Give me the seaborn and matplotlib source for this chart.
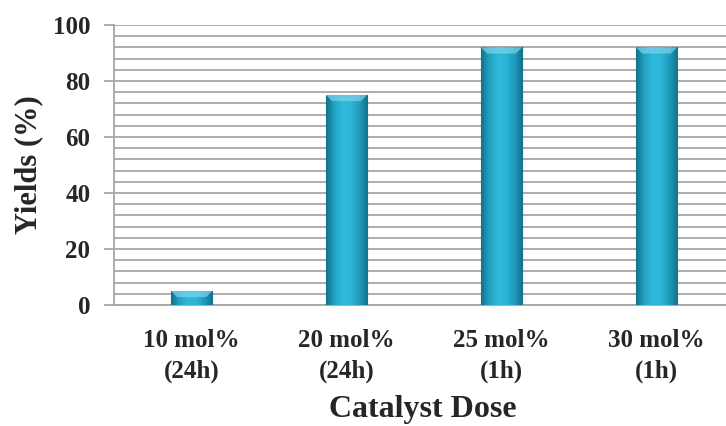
import numpy as np
import pandas as pd
import matplotlib
matplotlib.use('Agg')
import matplotlib.pyplot as plt
import seaborn as sns
from matplotlib.colors import LinearSegmentedColormap

categories = ['10 mol%\n(24h)', '20 mol%\n(24h)', '25 mol%\n(1h)', '30 mol%\n(1h)']
yields = [5, 75, 92, 92]

df = pd.DataFrame({'dose': categories, 'yield': yields})

sns.set_style('white')
plt.rcParams['font.family'] = ['Liberation Serif', 'DejaVu Serif']
plt.rcParams['font.weight'] = 'bold'

fig = plt.figure(figsize=(7.26, 4.26), dpi=100)
ax = fig.add_axes([114 / 726, 1 - 305 / 426, (734 - 114) / 726, 280 / 426])

sns.barplot(data=df, x='dose', y='yield', color='#23a6c8', width=0.265,
            edgecolor='#157089', linewidth=0.8, ax=ax, zorder=3)

# horizontal gradient on each bar (dark edges, light centre)
cmap = LinearSegmentedColormap.from_list('bar', ['#13708a', '#22a3c4', '#2fb9db', '#2db5d7', '#1f9aba', '#13708a'])
grad = np.linspace(0, 1, 256).reshape(1, -1)
for p in ax.patches:
    x0, y0 = p.get_x(), p.get_y()
    w, h = p.get_width(), p.get_height()
    im = ax.imshow(grad, extent=[x0, x0 + w, y0, y0 + h], aspect='auto',
                   cmap=cmap, zorder=4)
    im.set_clip_path(p)
    # light bevel at top
    ax.fill([x0, x0 + w, x0 + w * 0.85, x0 + w * 0.15], [y0 + h, y0 + h, y0 + h - 2.2, y0 + h - 2.2],
            color='#7fd3ea', alpha=0.7, zorder=5, lw=0)

ax.set_ylim(0, 100)
ax.set_xlim(-0.5, 3.5)
ax.set_yticks(range(0, 101, 20))
ax.set_yticks(range(0, 101, 4), minor=True)
ax.grid(axis='y', which='both', color='#a6a6a6', linewidth=1.3, zorder=0)
ax.set_axisbelow(True)

for s in ['top', 'right']:
    ax.spines[s].set_visible(False)
ax.spines['left'].set_color('#a6a6a6')
ax.spines['left'].set_linewidth(1.3)
ax.spines['bottom'].set_color('#a6a6a6')
ax.spines['bottom'].set_linewidth(1.3)

ax.tick_params(axis='y', which='major', length=7, width=1.3, color='#a6a6a6',
               labelsize=18, pad=10, left=True)
ax.tick_params(axis='y', which='minor', length=0)
ax.tick_params(axis='x', length=0, labelsize=18, pad=17)
for lbl in ax.get_xticklabels() + ax.get_yticklabels():
    lbl.set_fontweight('bold')
for lbl in ax.get_xticklabels():
    lbl.set_linespacing(1.45)

ax.set_xlabel('Catalyst Dose', fontsize=23, fontweight='bold')
ax.set_ylabel('Yields (%)', fontsize=22, fontweight='bold')
ax.xaxis.set_label_coords((423 - 114) / 620, -0.322)
ax.yaxis.set_label_coords(-(114 - 43) / 620, 0.5)

plt.savefig('out.png', dpi=100)
